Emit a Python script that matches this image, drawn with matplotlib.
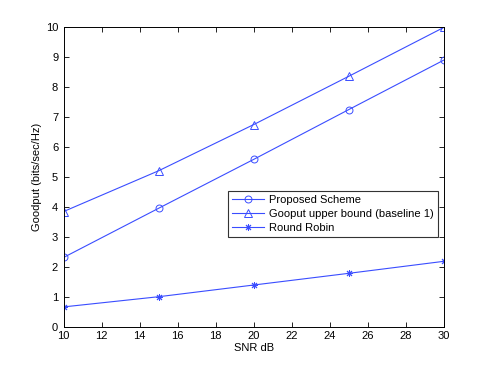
import matplotlib
matplotlib.use("Agg")
from matplotlib import pyplot as plt

snr = [10, 15, 20, 25, 30]
proposed = [2.33, 3.97, 5.60, 7.26, 8.91]
upper_bound = [3.86, 5.22, 6.76, 8.37, 10.0]
round_robin = [0.68, 1.02, 1.41, 1.80, 2.20]

plt.rcParams['font.family'] = ['Liberation Sans', 'DejaVu Sans']
plt.rcParams['font.size'] = 8

fig = plt.figure(figsize=(4.91, 3.69), dpi=100)
ax = fig.add_axes([0.1297, 0.113, 0.7746, 0.813])

col = '#3a4dff'
ax.plot(snr, proposed, color=col, lw=0.8, marker='o', ms=5, mfc='none', mec=col, mew=0.7,
        label='Proposed Scheme')
ax.plot(snr, upper_bound, color=col, lw=0.8, marker='^', ms=5.5, mfc='none', mec=col, mew=0.7,
        label='Gooput upper bound (baseline 1)')
ax.plot(snr, round_robin, color=col, lw=0.8, marker=(8, 2, 0), ms=5, mec=col, mew=0.7,
        label='Round Robin')

ax.set_xlim(10, 30)
ax.set_ylim(0, 10)
ax.set_xticks(range(10, 31, 2))
ax.set_yticks(range(0, 11))
ax.tick_params(direction='in', top=True, right=True, length=3.5, width=0.6)
ax.tick_params(axis='x', pad=3)
ax.tick_params(axis='y', pad=4)
for s in ax.spines.values():
    s.set_linewidth(0.7)

ax.set_xlabel('SNR dB', labelpad=1)
ax.set_ylabel('Goodput (bits/sec/Hz)', labelpad=3)

leg = ax.legend(loc='upper left', bbox_to_anchor=(0.432, 0.455), fancybox=False,
                edgecolor='#333333', framealpha=1, borderpad=0.4, labelspacing=0.35,
                handlelength=2.8, handletextpad=0.5, borderaxespad=0)
leg.get_frame().set_linewidth(0.8)

fig.savefig('out.png', dpi=100)
